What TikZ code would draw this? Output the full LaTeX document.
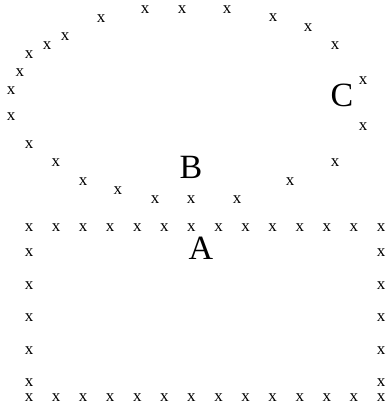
\documentclass[tikz,border=0pt]{standalone}
\usepackage{fontspec}
\setmainfont{Liberation Serif}
\begin{document}
\begin{tikzpicture}[x=1pt,y=-1pt,
  xm/.style={inner sep=0pt,font=\fontsize{17}{17}\selectfont},
  lbl/.style={inner sep=0pt,font=\fontsize{34}{34}\selectfont}]
\useasboundingbox (0,0) rectangle (388,408);
% ring of marks round B
\foreach \px/\py [count=\i] in {11/91,20/73,29/55,47/46,65/37,101/19,145/10,182/10,
    227/10,273/18,308/28,335/46,363/81,363/127,335/163,290/182,237/200,191/200,
    155/200,118/191,83/182,56/163,29/145,11/117}
  \node[xm] (r\i) at (\px,\py) {x};
% box of marks
\foreach \i in {0,...,13} {
  \node[xm] (t\i) at ({29+27.08*\i},228) {x};
  \node[xm] (b\i) at ({29+27.08*\i},398) {x};
}
\foreach \j in {1,...,5} {
  \node[xm] (lft\j) at (29,{253+32.5*(\j-1)}) {x};
  \node[xm] (rgt\j) at (381,{253+32.5*(\j-1)}) {x};
}
% labels
\node[lbl] (A) at (201,248) {A};
\node[lbl] (B) at (191,167) {B};
\node[lbl] (C) at (342,95) {C};
\end{tikzpicture}
\end{document}
